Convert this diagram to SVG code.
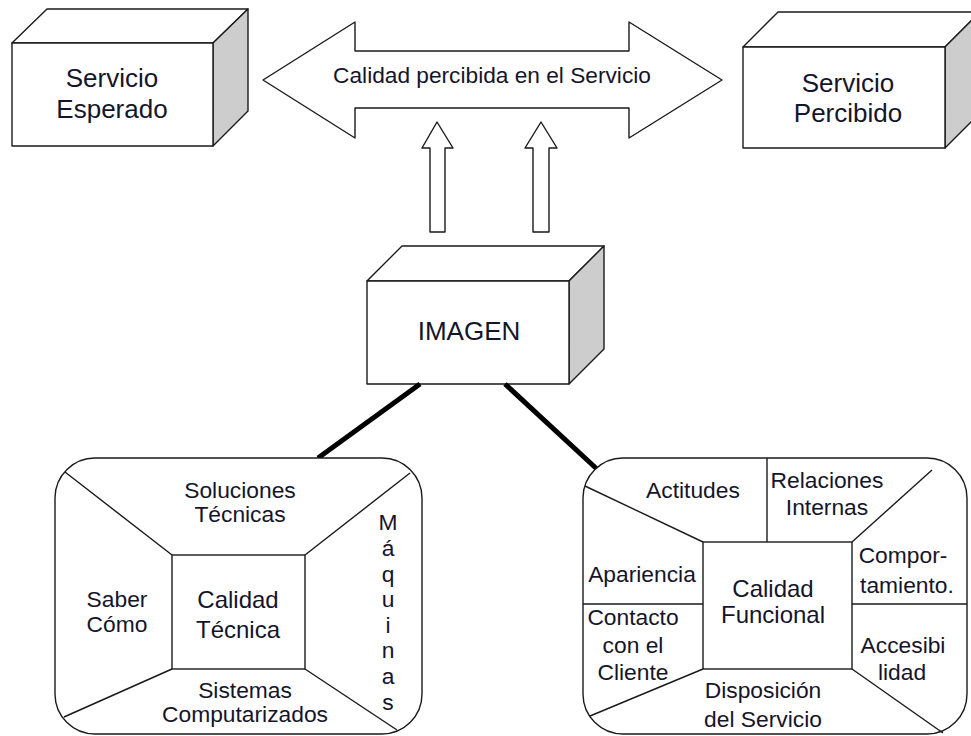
<svg xmlns="http://www.w3.org/2000/svg" width="971" height="736" viewBox="0 0 971 736">
<style>
  .ln{fill:none;stroke:#1a1a1a;stroke-width:1.4}
  .face{fill:#fff;stroke:#1a1a1a;stroke-width:1.4;stroke-linejoin:round}
  .side{fill:#cdcdcd;stroke:#1a1a1a;stroke-width:1.4;stroke-linejoin:round}
  .thick{stroke:#000;stroke-width:5;fill:none}
  text{font-family:"Liberation Sans",Arial,sans-serif;fill:#15152a;text-anchor:middle}
  .big{font-size:26px}
  .mid{font-size:24px}
  .sm{font-size:22.8px}
</style>
<rect width="971" height="736" fill="#fff"/>

<g id="servicio-esperado">
  <polygon class="face" points="12,43 47,9 248,9 213,43"/>
  <polygon class="side" points="213,43 248,9 248,111 213,146"/>
  <rect class="face" x="12" y="43" width="201" height="103"/>
  <text class="big" x="112" y="87">Servicio</text>
  <text class="big" x="112" y="118">Esperado</text>
</g>

<g id="servicio-percibido">
  <polygon class="face" points="743,47 778,12 980,12 945,47"/>
  <polygon class="side" points="945,47 980,12 980,113 945,148"/>
  <rect class="face" x="743" y="47" width="202" height="101"/>
  <text class="big" x="848" y="92">Servicio</text>
  <text class="big" x="848" y="122">Percibido</text>
</g>

<g id="calidad-percibida">
  <polygon class="face" points="263,80 355,22 355,51 629,51 629,22 722,80 629,138 629,108 355,108 355,138"/>
  <text style="font-size:22.7px" x="492" y="83">Calidad percibida en el Servicio</text>
</g>

<g id="imagen">
  <polygon class="face" points="367,281 402,246 604,246 569,281"/>
  <polygon class="side" points="569,281 604,246 604,349 569,384"/>
  <rect class="face" x="367" y="281" width="202" height="103"/>
  <text class="big" x="469" y="340">IMAGEN</text>
</g>

<g id="connectors">
  <polygon class="face" points="437,122 453,148 445,148 445,232 430,232 430,148 422,148"/>
  <polygon class="face" points="541,122 557,148 549,148 549,232 533,232 533,148 525,148"/>
  <line class="thick" x1="420" y1="384" x2="318" y2="458"/>
  <line class="thick" x1="505" y1="384" x2="598" y2="470"/>
</g>

<g id="calidad-tecnica">
  <rect class="ln" x="55" y="458" width="367" height="276" rx="40" ry="40" style="fill:#fff"/>
  <line class="ln" x1="65" y1="472" x2="172" y2="555"/>
  <line class="ln" x1="410" y1="473" x2="305" y2="555"/>
  <line class="ln" x1="172" y1="669" x2="64" y2="717"/>
  <line class="ln" x1="305" y1="669" x2="397" y2="730"/>
  <rect class="ln" x="172" y="555" width="133" height="114"/>
  <text class="sm" x="240" y="498">Soluciones</text>
  <text class="sm" x="240" y="522">Técnicas</text>
  <text class="sm" x="117" y="607">Saber</text>
  <text class="sm" x="117" y="632">Cómo</text>
  <text class="mid" x="238" y="608">Calidad</text>
  <text class="mid" x="238" y="638">Técnica</text>
  <text class="sm" x="245" y="698">Sistemas</text>
  <text class="sm" x="245" y="722">Computarizados</text>
  <text class="sm" x="388" y="530">M</text>
  <text class="sm" x="388" y="556">á</text>
  <text class="sm" x="388" y="582">q</text>
  <text class="sm" x="388" y="607">u</text>
  <text class="sm" x="388" y="633">i</text>
  <text class="sm" x="388" y="658">n</text>
  <text class="sm" x="388" y="684">a</text>
  <text class="sm" x="388" y="710">s</text>
</g>

<g id="calidad-funcional">
  <rect class="ln" x="583" y="458" width="384" height="276" rx="40" ry="40" style="fill:#fff"/>
  <line class="ln" x1="767" y1="458" x2="767" y2="542"/>
  <line class="ln" x1="585" y1="486" x2="703" y2="542"/>
  <line class="ln" x1="932" y1="470" x2="852" y2="542"/>
  <line class="ln" x1="583" y1="604" x2="703" y2="604"/>
  <line class="ln" x1="852" y1="604" x2="967" y2="604"/>
  <line class="ln" x1="703" y1="669" x2="590" y2="716"/>
  <line class="ln" x1="852" y1="669" x2="943" y2="733"/>
  <rect class="ln" x="703" y="542" width="149" height="127"/>
  <text class="sm" x="693" y="498">Actitudes</text>
  <text class="sm" x="827" y="488">Relaciones</text>
  <text class="sm" x="827" y="515">Internas</text>
  <text class="sm" x="642" y="582">Apariencia</text>
  <text class="sm" x="903" y="563">Compor-</text>
  <text class="sm" x="907" y="593">tamiento.</text>
  <text class="mid" x="773" y="597">Calidad</text>
  <text class="mid" x="773" y="623">Funcional</text>
  <text class="sm" x="633" y="625">Contacto</text>
  <text class="sm" x="633" y="653">con el</text>
  <text class="sm" x="633" y="680">Cliente</text>
  <text class="sm" x="903" y="653">Accesibi</text>
  <text class="sm" x="902" y="680">lidad</text>
  <text class="sm" x="763" y="698">Disposición</text>
  <text class="sm" x="763" y="727">del Servicio</text>
</g>
</svg>
